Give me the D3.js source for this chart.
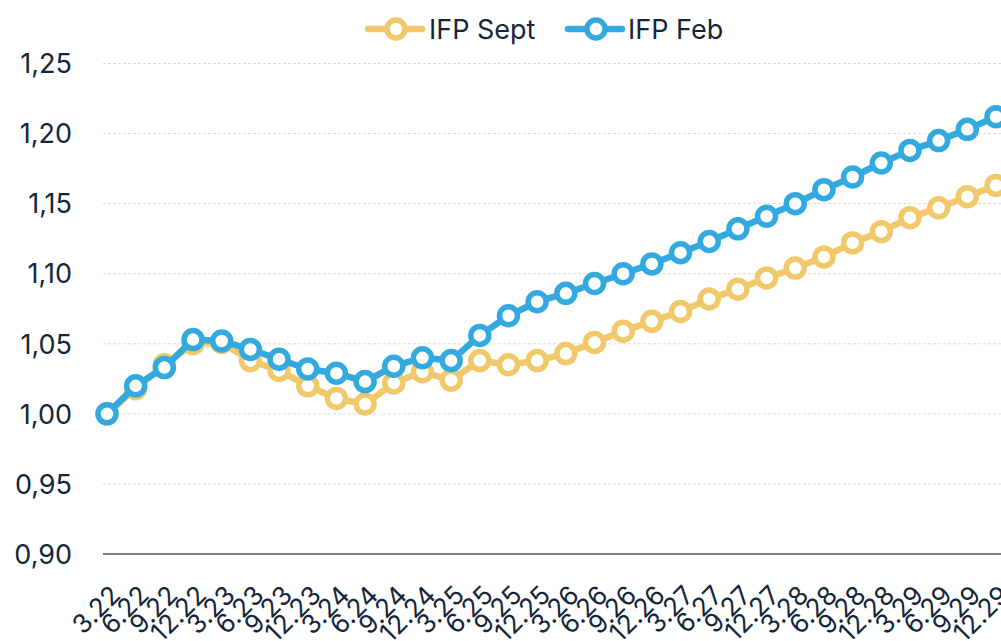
<!doctype html>
<html>
<head>
<meta charset="utf-8">
<style>
  body { margin: 0; background: #fff; }
  svg { display: block; font-family: Inter, "Noto Sans", sans-serif; }
</style>
</head>
<body>
  <svg id="chart"></svg>
<script src="https://d3js.org/d3.v7.min.js"></script>
<script>
  // quarters, 3.22 .. 12.29
  const quarters = ["3.22","6.22","9.22","12.22","3.23","6.23","9.23","12.23",
    "3.24","6.24","9.24","12.24","3.25","6.25","9.25","12.25",
    "3.26","6.26","9.26","12.26","3.27","6.27","9.27","12.27",
    "3.28","6.28","9.28","12.28","3.29","6.29","9.29","12.29"];

  const ifpSept = [1.000, 1.018, 1.035, 1.050, 1.051, 1.038, 1.031, 1.020,
    1.011, 1.007, 1.022, 1.030, 1.024, 1.038, 1.035, 1.038,
    1.043, 1.051, 1.059, 1.066, 1.073, 1.082, 1.089, 1.097,
    1.104, 1.112, 1.122, 1.130, 1.140, 1.147, 1.155, 1.163];

  const ifpFeb = [1.000, 1.020, 1.033, 1.053, 1.052, 1.046, 1.039, 1.032,
    1.029, 1.023, 1.034, 1.040, 1.038, 1.056, 1.070, 1.080,
    1.086, 1.093, 1.100, 1.107, 1.115, 1.123, 1.132, 1.141,
    1.150, 1.160, 1.169, 1.179, 1.188, 1.195, 1.203, 1.212];

  const yTicks = [0.90, 0.95, 1.00, 1.05, 1.10, 1.15, 1.20, 1.25];

  const series = [
    { name: "IFP Sept", values: ifpSept, color: "#f2c96a" },
    { name: "IFP Feb", values: ifpFeb, color: "#33aadf" }
  ];

  const width = 1001, height = 641;
  const textColor = "#14263a";
  const svg = d3.select("#chart").attr("width", width).attr("height", height);

  const x = d3.scalePoint().domain(quarters).range([107, 996]);
  const y = d3.scaleLinear().domain([0.90, 1.25]).range([554, 63.5]);

  // grid
  const grid = svg.append("g");
  grid.selectAll("line")
    .data(yTicks.slice(1))
    .enter()
    .append("line")
    .attr("x1", 103).attr("x2", width)
    .attr("y1", d => y(d)).attr("y2", d => y(d))
    .attr("stroke", "#dcdcdc")
    .attr("stroke-width", 1)
    .attr("stroke-dasharray", "3,2");

  // y labels
  svg.append("g")
    .selectAll("text")
    .data(yTicks)
    .enter()
    .append("text")
    .attr("x", 72)
    .attr("y", d => y(d))
    .attr("dy", "0.36em")
    .attr("text-anchor", "end")
    .attr("font-size", 27)
    .attr("fill", textColor)
    .text(d => d3.format(".2f")(d).replace(".", ","));

  // baseline
  svg.append("line")
    .attr("x1", 103).attr("x2", width)
    .attr("y1", y(0.90)).attr("y2", y(0.90))
    .attr("stroke", "#7f7f7f")
    .attr("stroke-width", 2);

  // x labels
  svg.append("g")
    .selectAll("text")
    .data(quarters)
    .enter()
    .append("text")
    .attr("transform", d => `translate(${x(d) + 2},${584}) rotate(-45)`)
    .attr("text-anchor", "end")
    .attr("dy", "0.7em")
    .attr("font-size", 26)
    .attr("fill", textColor)
    .text(d => d);

  const line = d3.line()
    .x((d, i) => x(quarters[i]))
    .y(d => y(d));

  series.forEach(s => {
    const g = svg.append("g");
    g.append("path")
      .datum(s.values)
      .attr("fill", "none")
      .attr("stroke", s.color)
      .attr("stroke-width", 6.5)
      .attr("stroke-linejoin", "round")
      .attr("d", line);
    g.selectAll("circle")
      .data(s.values)
      .enter()
      .append("circle")
      .attr("cx", (d, i) => x(quarters[i]))
      .attr("cy", d => y(d))
      .attr("r", 9)
      .attr("fill", "#fff")
      .attr("stroke", s.color)
      .attr("stroke-width", 5.5);
  });

  // legend
  const legendItems = [
    { s: series[0], x0: 368, tx: 429 },
    { s: series[1], x0: 568, tx: 628 }
  ];
  const lg = svg.append("g");
  legendItems.forEach(item => {
    lg.append("line")
      .attr("x1", item.x0).attr("x2", item.x0 + 54)
      .attr("y1", 29).attr("y2", 29)
      .attr("stroke", item.s.color)
      .attr("stroke-width", 6.5)
      .attr("stroke-linecap", "round");
    lg.append("circle")
      .attr("cx", item.x0 + 28).attr("cy", 29)
      .attr("r", 9)
      .attr("fill", "#fff")
      .attr("stroke", item.s.color)
      .attr("stroke-width", 5.5);
    lg.append("text")
      .attr("x", item.tx).attr("y", 29)
      .attr("dy", "0.36em")
      .attr("font-size", 27)
      .attr("fill", textColor)
      .text(item.s.name);
  });
</script>
</body>
</html>
